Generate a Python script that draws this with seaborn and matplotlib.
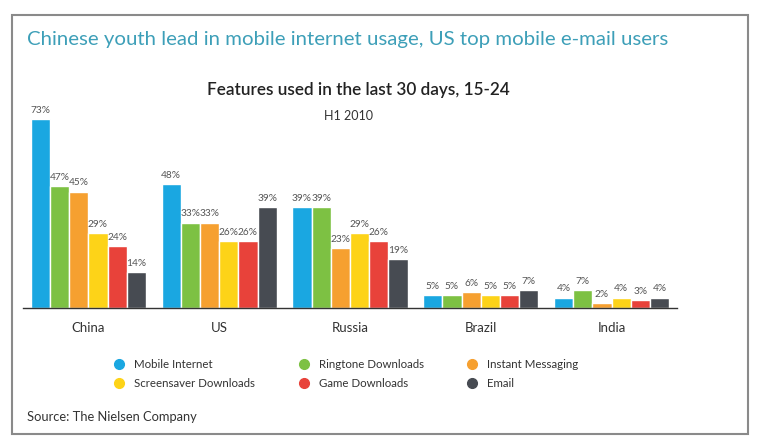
import pandas as pd
import matplotlib.pyplot as plt
import seaborn as sns
from matplotlib.lines import Line2D
from matplotlib.patches import Rectangle

# dados
countries = ["China", "US", "Russia", "Brazil", "India"]
features = ["Mobile Internet", "Ringtone Downloads", "Instant Messaging",
            "Screensaver Downloads", "Game Downloads", "Email"]
mobile_internet = [73, 48, 39, 5, 4]
ringtone = [47, 33, 39, 5, 7]
instant_msg = [45, 33, 23, 6, 2]
screensaver = [29, 26, 29, 5, 4]
game = [24, 26, 26, 5, 3]
email = [14, 39, 19, 7, 4]

series = [mobile_internet, ringtone, instant_msg, screensaver, game, email]
rows = []
for feat, vals in zip(features, series):
    for c, v in zip(countries, vals):
        rows.append({"country": c, "feature": feat, "pct": v})
df = pd.DataFrame(rows)

colors = ["#1aa7e1", "#7dc143", "#f6a030", "#fdd318", "#e8423a", "#474b52"]

sns.set_style("white")
plt.rcParams["font.family"] = ["Lato", "DejaVu Sans"]

fig = plt.figure(figsize=(7.6, 4.4), dpi=100)
fig.patch.set_facecolor("white")
ax = fig.add_axes([23 / 760, 132 / 440, 654 / 760, 207 / 440])

sns.barplot(data=df, x="country", y="pct", hue="feature", order=countries,
            hue_order=features, palette=colors, width=0.88, saturation=1,
            legend=False, ax=ax)

for cont in ax.containers:
    ax.bar_label(cont, fmt="%d%%", padding=3, fontsize=7.3, color="#555555")

ax.set_ylim(0, 80)
ax.set_xlim(-0.5, 4.5)
ax.set_xlabel("")
ax.set_ylabel("")
ax.set_yticks([])
ax.tick_params(axis="x", length=0, pad=10, labelsize=9.5, labelcolor="#333333")
for s in ["top", "left", "right"]:
    ax.spines[s].set_visible(False)
ax.spines["bottom"].set_color("#333333")
ax.spines["bottom"].set_linewidth(1)

# títulos
fig.text(27 / 760, 1 - 39 / 440, "Chinese youth lead in mobile internet usage, US top mobile e-mail users",
         fontsize=14.7, color="#3d9fb8", va="center", ha="left")
fig.text(358 / 760, 1 - 90 / 440, "Features used in the last 30 days, 15-24",
         fontsize=12.3, color="#222222", va="center", ha="center", fontweight="semibold")
fig.text(349 / 760, 1 - 116 / 440, "H1 2010", fontsize=9, color="#333333",
         va="center", ha="center")
fig.text(27 / 760, 1 - 417 / 440, "Source: The Nielsen Company", fontsize=9.3,
         color="#333333", va="center", ha="left")

# legenda em linhas
order = [0, 3, 1, 4, 2, 5]
handles = [Line2D([], [], marker="o", ls="", markersize=7, markerfacecolor=colors[i],
                  markeredgecolor=colors[i]) for i in order]
labels = [features[i] for i in order]
fig.legend(handles, labels, ncol=3, loc="upper left",
           bbox_to_anchor=(103 / 760, 1 - 349 / 440), frameon=False,
           fontsize=8.3, labelcolor="#333333", columnspacing=3.7,
           handletextpad=0.8, labelspacing=0.7, handlelength=1.0)

# moldura
fig.patches.append(Rectangle((12 / 760, 6 / 440), 736 / 760, 419 / 440,
                             transform=fig.transFigure, fill=False,
                             edgecolor="#8a8a8a", linewidth=1.5))

plt.savefig("out.png", dpi=100, facecolor="white")
